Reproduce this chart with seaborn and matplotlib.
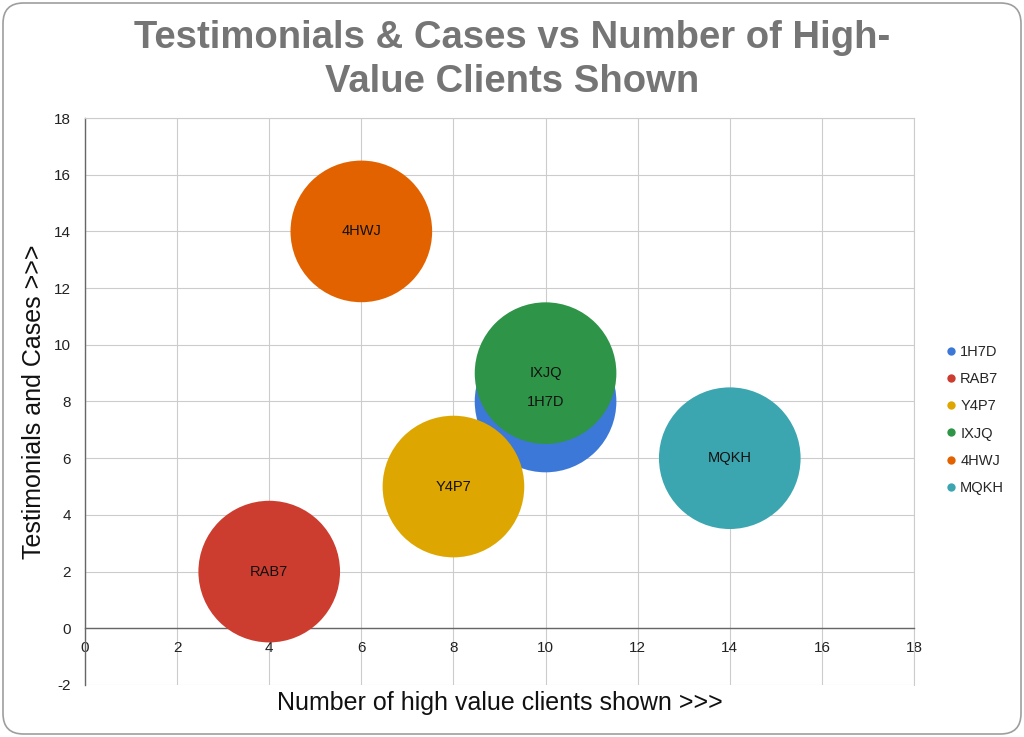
import matplotlib
matplotlib.use("Agg")
import matplotlib.pyplot as plt
import seaborn as sns
import pandas as pd
from matplotlib.patches import FancyBboxPatch
from matplotlib.lines import Line2D

names = ["1H7D", "RAB7", "Y4P7", "IXJQ", "4HWJ", "MQKH"]
clients = [10, 4, 8, 10, 6, 14]
testimonials = [8, 2, 5, 9, 14, 6]
bubble = [1, 1, 1, 1, 1, 1]
colors = ["#3c78d8", "#cc3d2f", "#dea600", "#2e9448", "#e36200", "#3ba6b0"]
x_ticks = [0, 2, 4, 6, 8, 10, 12, 14, 16, 18]
y_ticks = [-2, 0, 2, 4, 6, 8, 10, 12, 14, 16, 18]
title_lines = ["Testimonials & Cases vs Number of High-", "Value Clients Shown"]

df = pd.DataFrame({"name": names, "x": clients, "y": testimonials, "s": bubble})

sns.set_style("white")
plt.rcParams["font.family"] = ["Liberation Sans", "DejaVu Sans"]
plt.rcParams["axes.unicode_minus"] = False

fig = plt.figure(figsize=(10.24, 7.37), dpi=100, facecolor="white")
border = FancyBboxPatch((3 / 1024, 3 / 737), 1018 / 1024, 731 / 737,
                        boxstyle="round,pad=0,rounding_size=0.02",
                        transform=fig.transFigure, facecolor="none",
                        edgecolor="#9e9e9e", linewidth=1.2, mutation_aspect=1024 / 737,
                        zorder=10)
fig.patches.append(border)

ax = fig.add_axes([85 / 1024, (737 - 685) / 737, 829 / 1024, 567 / 737])
ax.set_facecolor("none")

sns.scatterplot(data=df, x="x", y="y", hue="name", size="s", sizes=(10400, 10400),
                palette=colors, hue_order=names, legend=False, linewidth=0,
                alpha=1, ax=ax, zorder=3)
for n, xv, yv in zip(names, clients, testimonials):
    ax.text(xv, yv, n, ha="center", va="center", fontsize=10.5, color="#111111", zorder=5)

ax.set_xlim(0, 18)
ax.set_ylim(-2, 18)
ax.set_xticks(x_ticks)
ax.set_yticks(y_ticks)
ax.grid(True, color="#cccccc", linewidth=0.8, zorder=0)
ax.set_axisbelow(True)
for s in ["top", "right"]:
    ax.spines[s].set_color("#cccccc")
    ax.spines[s].set_linewidth(0.8)
ax.spines["bottom"].set_position(("data", 0))
ax.spines["bottom"].set_color("#666666")
ax.spines["bottom"].set_linewidth(1.0)
ax.spines["left"].set_color("#666666")
ax.spines["left"].set_linewidth(1.0)
ax.tick_params(axis="both", length=0, labelsize=11, labelcolor="#222222")
ax.tick_params(axis="x", pad=9)
ax.tick_params(axis="y", pad=10)

ax.set_xlabel("Number of high value clients shown >>>", fontsize=18, color="#111111")
ax.set_ylabel("Testimonials and Cases >>>", fontsize=18, color="#111111")
ax.xaxis.set_label_coords(0.5, (685 - 703) / 567)
ax.xaxis.label.set_va("center")
ax.yaxis.set_label_coords((34 - 85) / 829, 0.5)
ax.yaxis.label.set_va("center")

for line, base in zip(title_lines, [48, 92]):
    fig.text(512 / 1024, 1 - base / 737, line, va="baseline", ha="center",
             fontsize=27.5, fontweight="bold", color="#757575")

handles = [Line2D([0], [0], marker="o", linestyle="", markersize=6,
                  markerfacecolor=c, markeredgewidth=0) for c in colors]
leg = fig.legend(handles, names, loc="center left", bbox_to_anchor=(931 / 1024, 1 - 420 / 737),
                 frameon=False, fontsize=10.5, handletextpad=0.1, labelspacing=0.9,
                 handlelength=1.0)

fig.savefig("out.png", dpi=100)
